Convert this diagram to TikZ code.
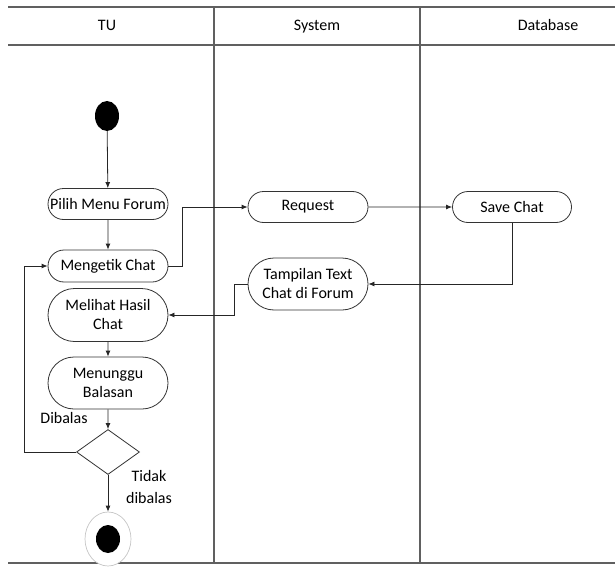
\documentclass[tikz,border=0pt]{standalone}
\usepackage{fontspec}
\setmainfont{Carlito}
\usetikzlibrary{shapes.misc,shapes.geometric,arrows.meta}
\begin{document}
\begin{tikzpicture}[x=1pt,y=-1pt,
  font=\fontsize{16}{19}\selectfont,
  lane/.style={draw=gray!75!black,line width=1.1pt},
  head/.style={inner sep=0pt,anchor=base},
  act/.style={rounded rectangle,draw=black!80,line width=0.8pt,fill=white,
    minimum width=124pt,inner sep=2pt,align=center},
  flow/.style={draw=black!85,line width=0.8pt,-{Latex[length=6pt,width=5pt]}},
  lbl/.style={inner sep=0pt,align=center}]
\useasboundingbox (0,0) rectangle (615,567);

% swimlane frame
\draw[lane] (8,7) -- (615,7);
\draw[lane] (8,45) -- (615,45);
\draw[lane] (8,563) -- (615,563);
\draw[lane] (214,7) -- (214,563);
\draw[lane] (420,7) -- (420,563);
\node[head] (hTU) at (107,31) {TU};
\node[head] (hSys) at (317,31) {System};
\node[head] (hDb) at (548,31) {Database};

% TU lane
\node[ellipse,fill=black,minimum width=24pt,minimum height=30pt,inner sep=0pt] (start) at (107,116) {};
\node[act,minimum height=31pt] (pilih) at (108,204) {Pilih Menu Forum};
\node[act,minimum height=32pt] (ketik) at (108,266) {Mengetik Chat};
\node[act,minimum height=53pt] (lihat) at (108,315) {Melihat Hasil\\Chat};
\node[act,minimum height=52pt] (tunggu) at (108,383) {Menunggu\\Balasan};
\node[diamond,draw=black!80,line width=0.8pt,fill=white,minimum width=63pt,minimum height=45pt,inner sep=0pt] (dec) at (108,452) {};
\node[ellipse,draw=gray!45,line width=0.7pt,fill=white,minimum width=46pt,minimum height=54pt,inner sep=0pt] (stop) at (108,539) {};
\node[ellipse,fill=black,minimum width=24pt,minimum height=28pt,inner sep=0pt] (stopin) at (108,539) {};
\node[lbl] (ldib) at (64,418) {Dibalas};
\node[lbl,font=\fontsize{16}{22}\selectfont] (ltdk) at (149,487) {Tidak\\dibalas};

% System and Database lanes
\node[act,minimum height=31pt] (req) at (308,207) {Request};
\node[act,minimum height=31pt,minimum width=123pt] (save) at (512,207) {Save Chat};
\node[act,minimum height=52pt] (tampil) at (308,284) {Tampilan Text\\Chat di Forum};

% flows
\draw[flow] (start) -- (pilih);
\draw[flow] (pilih) -- (ketik);
\draw[flow] (lihat) -- (tunggu);
\draw[flow] (tunggu) -- (dec);
\draw[flow] (dec) -- (stop);
\draw[flow] (dec.west) -| (24,266) -- (ketik.west);
\draw[flow] (ketik.east) -| (182,207) -- (req.west);
\draw[flow] (req) -- (save);
\draw[flow] (save.south) |- (tampil.east);
\draw[flow] (tampil.west) -| (234,315) -- (lihat.east);
\end{tikzpicture}
\end{document}
